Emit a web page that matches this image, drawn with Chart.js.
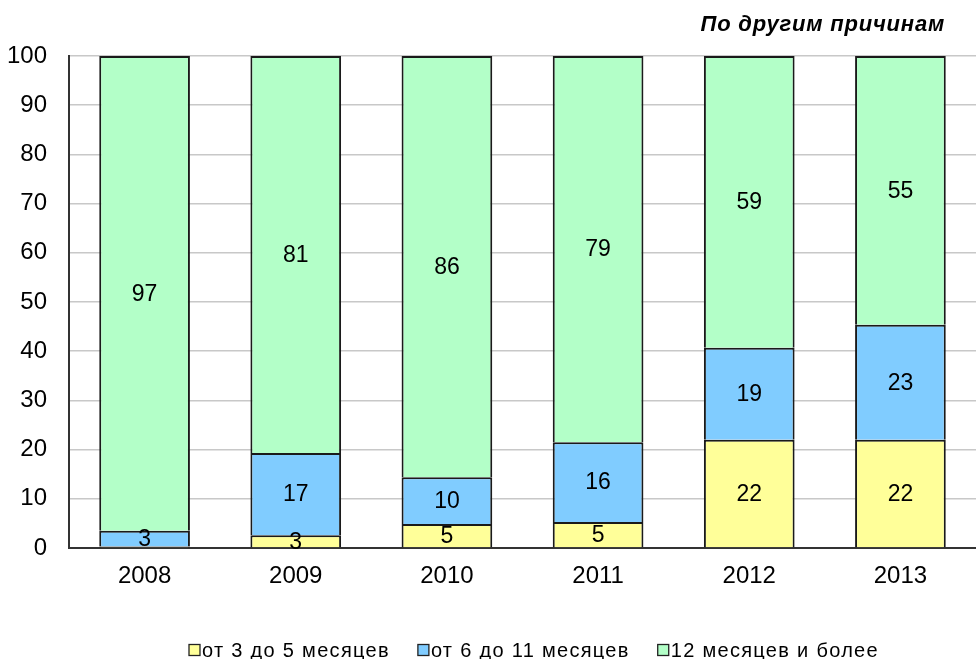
<!DOCTYPE html>
<html>
<head>
<meta charset="utf-8">
<script src="https://cdn.jsdelivr.net/npm/chart.js@4"></script>
<style>
  html, body { margin: 0; padding: 0; background: #fff; }
  #wrap { width: 976px; height: 659px; }
</style>
</head>
<body>
<div id="wrap"><canvas id="myChart" width="976" height="659"></canvas></div>
<script>
// данные
const years = ["2008", "2009", "2010", "2011", "2012", "2013"];
const from3to5 = [0.3, 2.6, 4.9, 5.3, 22.0, 22.0];
const from6to11 = [3.2, 16.7, 9.5, 16.2, 18.7, 23.4];
const over12 = [96.5, 80.7, 85.6, 78.5, 59.3, 54.6];
const yTicks = [0, 10, 20, 30, 40, 50, 60, 70, 80, 90, 100];
const seriesNames = ["от 3 до 5 месяцев", "от 6 до 11 месяцев", "12 месяцев и более"];
const chartTitle = "По другим причинам";

const FONT = "'Liberation Sans', Arial, sans-serif";

// подписи значений в центре сегментов
const valueLabels = {
  id: "valueLabels",
  afterDatasetsDraw(chart) {
    const ctx = chart.ctx;
    ctx.save();
    ctx.font = "23px " + FONT;
    ctx.fillStyle = "#000";
    ctx.textAlign = "center";
    ctx.textBaseline = "middle";
    chart.data.datasets.forEach((ds, i) => {
      const meta = chart.getDatasetMeta(i);
      meta.data.forEach((bar, j) => {
        const v = Math.round(ds.data[j]);
        if (v < 1) return;
        ctx.fillText(String(v), bar.x, (bar.y + bar.base) / 2 + 1);
      });
    });
    ctx.restore();
  }
};

// заголовок и легенда
const titleAndLegend = {
  id: "titleAndLegend",
  afterDraw(chart) {
    const ctx = chart.ctx;
    ctx.save();
    ctx.font = "bold italic 22px " + FONT;
    ctx.letterSpacing = "0.8px";
    ctx.fillStyle = "#000";
    ctx.textAlign = "right";
    ctx.textBaseline = "middle";
    ctx.fillText(chartTitle, 945, 25);

    ctx.font = "20px " + FONT;
    ctx.letterSpacing = "1.3px";
    ctx.textAlign = "left";
    let x = 189;
    const y = 650;
    chart.data.datasets.forEach((ds) => {
      ctx.fillStyle = ds.backgroundColor;
      ctx.fillRect(x, y - 5.5, 11, 11);
      ctx.strokeStyle = "#222";
      ctx.lineWidth = 1.3;
      ctx.strokeRect(x, y - 5.5, 11, 11);
      ctx.fillStyle = "#000";
      ctx.fillText(ds.label, x + 13, y + 1);
      x += 13 + ctx.measureText(ds.label).width + 28;
    });
    ctx.restore();
  }
};

const ctx = document.getElementById("myChart").getContext("2d");
const barStyle = {
  borderColor: "#1a1a1a",
  borderWidth: { top: 2, left: 2, right: 2, bottom: 0 },
  borderSkipped: false,
  barPercentage: 0.6,
  categoryPercentage: 1.0
};

window.myChart = new Chart(ctx, {
  type: "bar",
  data: {
    labels: years,
    datasets: [
      Object.assign({ label: seriesNames[0], data: from3to5, backgroundColor: "#FFFF99" }, barStyle),
      Object.assign({ label: seriesNames[1], data: from6to11, backgroundColor: "#80CCFF" }, barStyle),
      Object.assign({ label: seriesNames[2], data: over12, backgroundColor: "#B3FFC8" }, barStyle)
    ]
  },
  options: {
    responsive: false,
    animation: false,
    layout: { padding: { top: 56, right: 0, bottom: 61, left: 0 } },
    plugins: {
      legend: { display: false },
      tooltip: { enabled: false },
      title: { display: false }
    },
    scales: {
      x: {
        stacked: true,
        grid: { display: false },
        border: { display: true, color: "#333", width: 2 },
        ticks: { color: "#000", font: { family: FONT, size: 24 }, padding: 6 },
        afterFit(scale) { scale.height = 50; }
      },
      y: {
        stacked: true,
        min: 0,
        max: 100,
        afterBuildTicks(scale) { scale.ticks = yTicks.map(v => ({ value: v })); },
        grid: { color: "#c8c8c8", lineWidth: 1.5, drawTicks: false },
        border: { display: true, color: "#333", width: 2 },
        ticks: { color: "#000", font: { family: FONT, size: 24 }, padding: 22 },
        afterFit(scale) { scale.width = 69; }
      }
    }
  },
  plugins: [valueLabels, titleAndLegend]
});
</script>
</body>
</html>
